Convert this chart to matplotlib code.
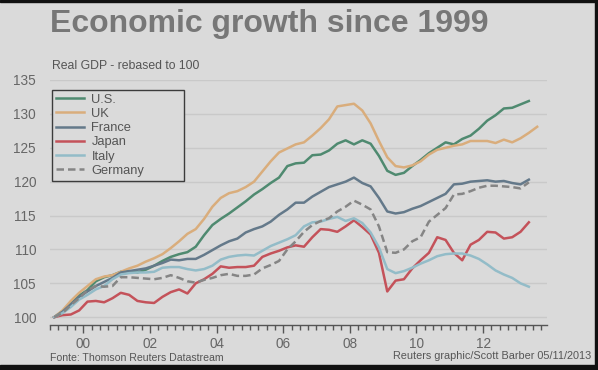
import numpy as np
import matplotlib
matplotlib.use('Agg')
import matplotlib.pyplot as plt
from matplotlib.patches import Rectangle

plt.rcParams['font.family'] = ['Liberation Sans', 'DejaVu Sans']

# quarterly real GDP, rebased to 100 at 1999 Q1
start_year = 1999.125
us = [100.0, 100.9, 102.0, 103.2, 104.0, 105.3, 105.9, 106.2, 106.7, 106.8,
      106.6, 107.0, 107.6, 108.3, 108.9, 109.3, 109.6, 110.4, 112.1, 113.6,
      114.5, 115.3, 116.2, 117.1, 118.1, 118.9, 119.8, 120.6, 122.3, 122.7,
      122.8, 123.9, 124.0, 124.6, 125.6, 126.1, 125.5, 126.1, 125.6, 123.8,
      121.6, 121.0, 121.3, 122.3, 123.2, 124.2, 125.0, 125.8, 125.5, 126.3,
      126.8, 127.8, 129.0, 129.8, 130.8, 130.9, 131.4, 131.9]
uk = [100.0, 101.0, 102.4, 103.6, 104.6, 105.6, 106.0, 106.2, 106.7, 107.2,
      107.6, 108.2, 108.7, 109.3, 110.2, 111.2, 112.3, 113.0, 114.5, 116.3,
      117.6, 118.3, 118.6, 119.2, 120.0, 121.5, 123.0, 124.3, 124.9, 125.5,
      125.8, 126.8, 127.9, 129.2, 131.1, 131.3, 131.5, 130.5, 128.6, 126.0,
      123.6, 122.3, 122.1, 122.4, 123.0, 124.0, 124.7, 125.0, 125.3, 125.5,
      126.0, 126.0, 126.0, 125.7, 126.2, 125.8, 126.4, 127.2, 128.1]
france = [100.0, 100.8, 101.9, 103.0, 103.8, 104.6, 105.2, 105.8, 106.6, 106.8,
          107.0, 107.2, 107.6, 108.0, 108.5, 108.4, 108.6, 108.6, 109.2, 109.9,
          110.6, 111.2, 111.6, 112.5, 113.0, 113.4, 114.1, 115.1, 115.9, 116.9,
          116.9, 117.8, 118.5, 119.2, 119.6, 120.0, 120.6, 119.8, 119.3, 117.6,
          115.6, 115.3, 115.5, 116.0, 116.4, 117.0, 117.6, 118.2, 119.6, 119.7,
          120.0, 120.1, 120.2, 120.0, 120.1, 119.8, 119.6, 120.3]
japan = [100.0, 100.3, 100.4, 101.0, 102.3, 102.4, 102.2, 102.8, 103.6, 103.3,
         102.4, 102.2, 102.1, 103.0, 103.7, 104.1, 103.5, 105.0, 105.6, 106.4,
         107.5, 107.3, 107.4, 107.4, 107.6, 108.9, 109.4, 109.8, 110.3, 110.6,
         110.4, 111.8, 113.0, 112.9, 112.6, 113.4, 114.3, 113.3, 112.2, 109.5,
         103.8, 105.4, 105.6, 107.2, 108.4, 109.5, 111.8, 111.4, 109.5, 108.4,
         110.7, 111.4, 112.6, 112.5, 111.6, 111.8, 112.6, 114.0]
italy = [100.0, 100.6, 101.5, 102.6, 103.3, 104.1, 104.6, 105.6, 106.3, 106.5,
         106.6, 106.6, 106.7, 107.3, 107.4, 107.4, 107.1, 106.9, 107.1, 107.6,
         108.5, 108.9, 109.1, 109.2, 109.1, 109.8, 110.5, 111.0, 111.5, 112.1,
         113.4, 114.0, 114.1, 114.5, 114.8, 114.2, 114.6, 113.9, 112.5, 110.3,
         107.1, 106.5, 106.8, 107.3, 107.9, 108.4, 109.0, 109.3, 109.4, 109.4,
         109.1, 108.6, 107.8, 106.9, 106.3, 105.8, 105.0, 104.5]
germany = [100.0, 100.6, 101.8, 102.8, 104.0, 104.6, 104.5, 104.6, 105.9, 105.9,
           105.8, 105.7, 105.6, 105.8, 106.2, 105.8, 105.3, 105.1, 105.5, 105.8,
           106.2, 106.4, 106.1, 106.1, 106.3, 107.2, 107.7, 108.3, 110.0, 111.2,
           112.6, 113.6, 114.2, 114.6, 115.6, 116.3, 117.2, 116.6, 115.9, 113.4,
           109.6, 109.5, 110.0, 111.2, 111.8, 114.1, 115.1, 116.1, 118.1, 118.2,
           118.6, 119.1, 119.4, 119.4, 119.3, 119.2, 119.0, 119.9]

labels = ['U.S.', 'UK', 'France', 'Japan', 'Italy', 'Germany']
series = [us, uk, france, japan, italy, germany]
colors = ['#4f8a70', '#d9ad7c', '#64798a', '#c4525a', '#93bcc8', '#858585']
styles = ['-', '-', '-', '-', '-', '--']
year_ticks = [2000, 2002, 2004, 2006, 2008, 2010, 2012]
year_labels = ['00', '02', '04', '06', '08', '10', '12']
y_ticks = [100, 105, 110, 115, 120, 125, 130, 135]

bg = '#dadada'
fig = plt.figure(figsize=(5.98, 3.70), dpi=100, facecolor=bg)
ax = fig.add_axes([50 / 598, 45 / 370, 497 / 598, 245 / 370], facecolor=bg)

for vals, lab, c, ls in zip(series, labels, colors, styles):
    x = start_year + 0.25 * np.arange(len(vals))
    ax.plot(x, vals, color=c, ls=ls, lw=1.8, label=lab,
            dashes=(3, 1.6) if ls == '--' else (None, None))

ax.set_xlim(1999, 2013.92)
ax.set_ylim(98.85, 135)
ax.set_yticks(y_ticks)
ax.yaxis.grid(True, color='#c9c9c9', lw=1)
ax.set_axisbelow(True)
ax.tick_params(axis='y', length=0, pad=10, labelsize=9.8, labelcolor='#666666')

ax.set_xticks(year_ticks)
ax.set_xticklabels(year_labels)
ax.set_xticks(np.arange(1999, 2013.8, 0.25), minor=True)
ax.tick_params(axis='x', which='major', length=6, width=1, color='#555555',
               direction='out', labelsize=9.8, labelcolor='#666666', pad=3)
ax.tick_params(axis='x', which='minor', length=3.5, width=1, color='#555555',
               direction='out')
for s in ['left', 'right', 'top']:
    ax.spines[s].set_visible(False)
ax.spines['bottom'].set_color('#555555')
ax.spines['bottom'].set_linewidth(1)

leg = ax.legend(loc='upper left', bbox_to_anchor=(0.004, 0.5, 0.266, 0.46),
                mode='expand', fontsize=9.3, frameon=True, fancybox=False,
                borderaxespad=0, borderpad=0.3, labelspacing=0.17,
                handlelength=2.2, handletextpad=0.55)
leg.get_frame().set_edgecolor('#3c3c3c')
leg.get_frame().set_facecolor(bg)
leg.get_frame().set_linewidth(1)
leg.get_frame().set_alpha(1)
for t in leg.get_texts():
    t.set_color('#555555')

fig.text(50 / 598, 1 - 24 / 370, 'Economic growth since 1999', fontsize=23,
         fontweight='bold', color='#777777', va='center', ha='left')
fig.text(52 / 598, 1 - 66 / 370, 'Real GDP - rebased to 100', fontsize=8.8,
         color='#555555', va='center', ha='left')
fig.text(50 / 598, 1 - 358 / 370, 'Fonte: Thomson Reuters Datastream',
         fontsize=7.6, color='#555555', va='center', ha='left')
fig.text(591 / 598, 1 - 356 / 370, 'Reuters graphic/Scott Barber 05/11/2013',
         fontsize=7.8, color='#555555', va='center', ha='right')

# dark frame of the original screenshot
fig.patches.append(Rectangle((0, 0), 1, 5 / 370, transform=fig.transFigure,
                             color='#111111', zorder=10))
fig.patches.append(Rectangle((0, 1 - 2 / 370), 1, 2 / 370, transform=fig.transFigure,
                             color='#111111', zorder=10))
fig.patches.append(Rectangle((1 - 3 / 598, 0), 3 / 598, 1, transform=fig.transFigure,
                             color='#111111', zorder=10))

fig.savefig('out.png', dpi=100, facecolor=bg)
